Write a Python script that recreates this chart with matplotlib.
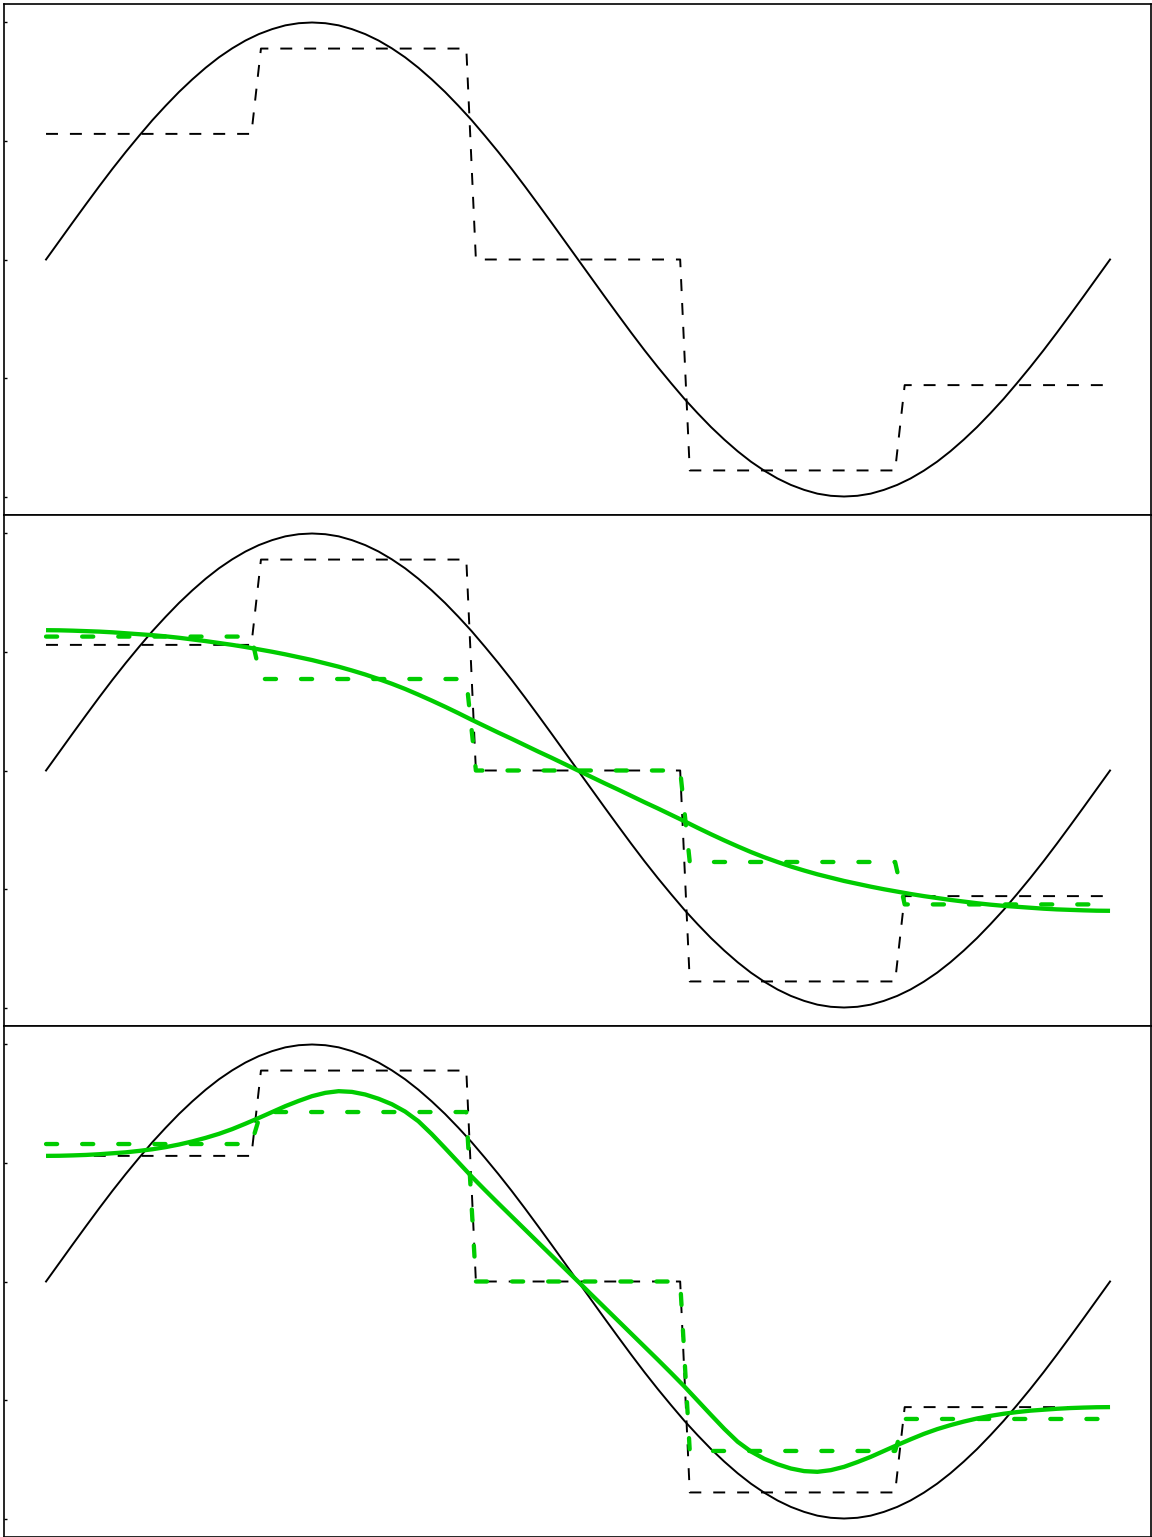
import numpy as np
import matplotlib
matplotlib.use('Agg')
import matplotlib.pyplot as plt

plt.rcParams['lines.scale_dashes'] = False

# x positions (fraction of one period), step 0.0125
t = np.linspace(0, 1, 81)

# original signal, first quarter (t = 0 .. 0.25)
signal_q = [0.0, 0.078, 0.156, 0.233, 0.309, 0.383, 0.454, 0.522, 0.588, 0.649, 0.707,
            0.760, 0.809, 0.853, 0.891, 0.924, 0.951, 0.972, 0.988, 0.997, 1.0]

# smoothed signals (green), first half t = 0 .. 0.5; the curves are odd about t = 0.5
smooth_2_half = [0.592, 0.5915, 0.590, 0.588, 0.586, 0.583, 0.579, 0.575, 0.571, 0.566,
                 0.560, 0.553, 0.546, 0.538, 0.530, 0.521, 0.511, 0.501, 0.490, 0.478,
                 0.466, 0.452, 0.438, 0.422, 0.405, 0.386, 0.366, 0.344, 0.320, 0.295,
                 0.269, 0.242, 0.214, 0.187, 0.160, 0.134, 0.107, 0.080, 0.054, 0.027, 0.0]
smooth_3_half = [0.530, 0.5305, 0.532, 0.534, 0.537, 0.541, 0.545, 0.551, 0.558, 0.567,
                 0.578, 0.591, 0.606, 0.623, 0.643, 0.666, 0.690, 0.715, 0.740, 0.762,
                 0.782, 0.796, 0.803, 0.800, 0.789, 0.771, 0.748, 0.717, 0.676, 0.622,
                 0.563, 0.503, 0.443, 0.386, 0.330, 0.275, 0.220, 0.165, 0.110, 0.055, 0.0]

# step (bin average) curves
step_x = [0, 0.193, 0.202, 0.395, 0.404, 0.596, 0.605, 0.798, 0.807, 0.996]
step_black = [0.53, 0.53, 0.89, 0.89, 0.0, 0.0, -0.89, -0.89, -0.53, -0.53]
step_green_2 = [0.565, 0.565, 0.386, 0.386, 0.0, 0.0, -0.386, -0.386, -0.565, -0.565]
step_green_3 = [0.58, 0.58, 0.715, 0.715, 0.0, 0.0, -0.715, -0.715, -0.58, -0.58]


def odd_full(half):
    # mirror first half around t = 0.5 (odd symmetry)
    return list(half) + [-v for v in reversed(half[:-1])]


signal_half = signal_q + signal_q[-2::-1]
signal = odd_full(signal_half)
smooth_2 = odd_full(smooth_2_half)
smooth_3 = odd_full(smooth_3_half)

green = '#00cc00'
W, H = 1152, 1537
fig = plt.figure(figsize=(W / 100, H / 100), dpi=100)

panels = [(None, None), (smooth_2, step_green_2), (smooth_3, step_green_3)]
for i, (g_smooth, g_step) in enumerate(panels):
    bottom = (H - 4 - 511 * (i + 1)) / H
    ax = fig.add_axes([4 / W, bottom, 1147 / W, 511 / H])
    ax.plot(t, signal, color='black', lw=1.4)
    ax.plot(step_x, step_black, color='black', lw=1.4, dashes=(8.6, 8.6))
    if g_smooth is not None:
        ax.plot(t, g_smooth, color=green, lw=3.1, solid_capstyle='butt')
        ax.plot(step_x, g_step, color=green, lw=3.1, dashes=(8, 18),
                dash_capstyle='round')
    ax.set_xlim(-0.0395, 1.0385)
    ax.set_ylim(-1.078, 1.078)
    ax.set_xticks([])
    ax.set_yticks([-1, -0.5, 0, 0.5, 1])
    ax.set_yticklabels([])
    ax.tick_params(axis='y', direction='in', length=2.5, width=1)
    for s in ax.spines.values():
        s.set_linewidth(1.2)

fig.savefig('out.png', dpi=100)
